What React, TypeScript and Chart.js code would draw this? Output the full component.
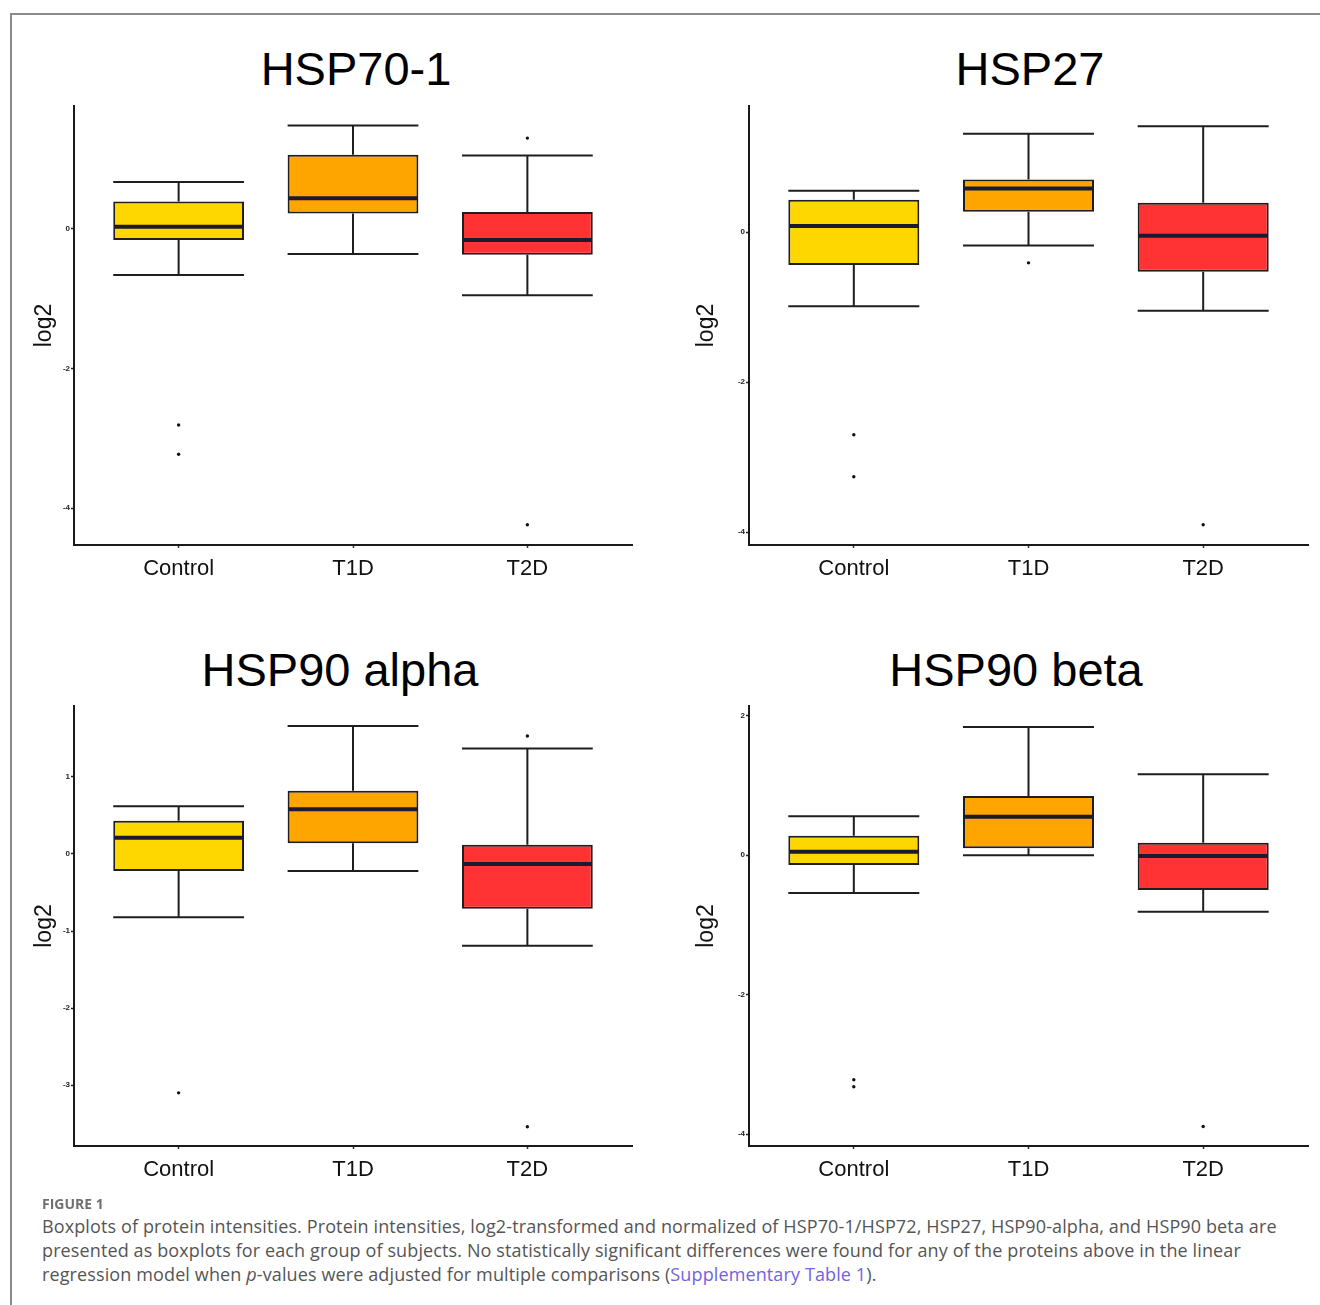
import React, { useEffect, useRef } from 'react';
import { Chart, registerables } from 'chart.js';

Chart.register(...registerables);

// ---- data ----
const categories = ['Control', 'T1D', 'T2D'];

// five-number summaries per group: [lower whisker, Q1, median, Q3, upper whisker]
const hsp701Boxes = [
  [-0.66, -0.16, 0.03, 0.39, 0.67],
  [-0.36, 0.22, 0.44, 1.06, 1.48],
  [-0.95, -0.37, -0.16, 0.24, 1.05],
];
const hsp701Outliers = [[0, -2.81], [0, -3.23], [2, 1.3], [2, -4.24]];

const hsp27Boxes = [
  [-0.99, -0.44, 0.08, 0.43, 0.55],
  [-0.18, 0.27, 0.58, 0.7, 1.31],
  [-1.05, -0.53, -0.05, 0.39, 1.41],
];
const hsp27Outliers = [[0, -2.7], [0, -3.26], [1, -0.41], [2, -3.9]];

const hsp90aBoxes = [
  [-0.82, -0.22, 0.21, 0.43, 0.62],
  [-0.22, 0.14, 0.58, 0.82, 1.66],
  [-1.19, -0.71, -0.13, 0.12, 1.37],
];
const hsp90aOutliers = [[0, -3.1], [2, 1.53], [2, -3.54]];

const hsp90bBoxes = [
  [-0.54, -0.14, 0.05, 0.28, 0.56],
  [0.0, 0.1, 0.55, 0.85, 1.84],
  [-0.81, -0.5, -0.01, 0.18, 1.16],
];
const hsp90bOutliers = [[0, -3.22], [0, -3.32], [2, -3.89]];

const hsp701Ticks = [0, -2, -4];
const hsp27Ticks = [0, -2, -4];
const hsp90aTicks = [1, 0, -1, -2, -3];
const hsp90bTicks = [2, 0, -2, -4];

const boxFill = ['#FFD700', '#FFA500', '#FF3333'];
const BOX_WIDTH = 0.75;

const boxWhiskerPlugin = {
  id: 'boxWhiskers',
  beforeDatasetsDraw(chart: any, _args: any, opts: any) {
    const stats: number[][] = opts.stats || [];
    const { ctx, scales } = chart;
    const x = scales.x;
    const y = scales.y;
    ctx.save();
    ctx.strokeStyle = '#1e1e1e';
    ctx.lineWidth = 2;
    stats.forEach((s, i) => {
      const cx = x.getPixelForValue(i);
      const xl = x.getPixelForValue(i - BOX_WIDTH / 2);
      const xr = x.getPixelForValue(i + BOX_WIDTH / 2);
      ctx.beginPath();
      ctx.moveTo(cx, y.getPixelForValue(s[0]));
      ctx.lineTo(cx, y.getPixelForValue(s[1]));
      ctx.moveTo(cx, y.getPixelForValue(s[3]));
      ctx.lineTo(cx, y.getPixelForValue(s[4]));
      ctx.moveTo(xl, y.getPixelForValue(s[0]));
      ctx.lineTo(xr, y.getPixelForValue(s[0]));
      ctx.moveTo(xl, y.getPixelForValue(s[4]));
      ctx.lineTo(xr, y.getPixelForValue(s[4]));
      ctx.stroke();
    });
    ctx.restore();
  },
  afterDatasetsDraw(chart: any, _args: any, opts: any) {
    const stats: number[][] = opts.stats || [];
    const { ctx, scales } = chart;
    const x = scales.x;
    const y = scales.y;
    ctx.save();
    ctx.strokeStyle = '#1a1a30';
    ctx.lineWidth = 4;
    stats.forEach((s, i) => {
      const xl = x.getPixelForValue(i - BOX_WIDTH / 2);
      const xr = x.getPixelForValue(i + BOX_WIDTH / 2);
      const ym = y.getPixelForValue(s[2]);
      ctx.beginPath();
      ctx.moveTo(xl + 1, ym);
      ctx.lineTo(xr - 1, ym);
      ctx.stroke();
    });
    ctx.restore();
  },
};

type PanelProps = {
  boxes: number[][];
  outliers: number[][];
  yMin: number;
  yMax: number;
  yTicks: number[];
  left: number;
  top: number;
  yAxisWidth: number;
  rightPad: number;
  xAxisHeight: number;
  titlePad: number;
};

const FONT = '"Liberation Sans", Arial, Helvetica, sans-serif';

function Panel(p: PanelProps) {
  const ref = useRef<HTMLCanvasElement>(null);
  useEffect(() => {
    const chart = new Chart(ref.current as HTMLCanvasElement, {
      type: 'bar',
      data: {
        datasets: [
          {
            type: 'bar',
            data: p.boxes.map((b, i) => ({ x: i, y: [b[1], b[3]] })) as any,
            backgroundColor: boxFill,
            borderColor: '#1e1e1e',
            borderWidth: 2,
            borderSkipped: false,
            barPercentage: BOX_WIDTH,
            categoryPercentage: 1,
            grouped: false,
          } as any,
          {
            type: 'scatter',
            data: p.outliers.map(([g, v]) => ({ x: g, y: v })),
            pointRadius: 1.7,
            pointBackgroundColor: '#111',
            pointBorderWidth: 0,
          } as any,
        ],
      },
      options: {
        animation: false,
        responsive: false,
        layout: { padding: { top: 10, right: p.rightPad, bottom: 0, left: 0 } },
        plugins: {
          legend: { display: false },
          tooltip: { enabled: false },
          boxWhiskers: { stats: p.boxes },
        } as any,
        scales: {
          x: {
            type: 'linear',
            min: -0.6,
            max: 2.6,
            offset: false,
            afterBuildTicks: (axis: any) => {
              axis.ticks = categories.map((_, i) => ({ value: i }));
            },
            afterFit: (s: any) => {
              s.height = p.xAxisHeight;
            },
            grid: {
              offset: false,
              drawOnChartArea: false,
              drawTicks: true,
              tickLength: 3,
              tickWidth: 1.5,
              tickColor: '#333',
            },
            border: { display: true, color: '#1a1a1a', width: 2 },
            ticks: {
              autoSkip: false,
              maxRotation: 0,
              padding: 8,
              color: '#111',
              font: { family: FONT, size: 22 },
              callback: (v: any) => categories[v as number] ?? '',
            },
          },
          y: {
            type: 'linear',
            min: p.yMin,
            max: p.yMax,
            afterBuildTicks: (axis: any) => {
              axis.ticks = p.yTicks.map((v) => ({ value: v }));
            },
            afterFit: (s: any) => {
              s.width = p.yAxisWidth;
            },
            grid: {
              drawOnChartArea: false,
              drawTicks: true,
              tickLength: 3,
              tickWidth: 1.5,
              tickColor: '#222',
            },
            border: { display: true, color: '#1a1a1a', width: 2 },
            ticks: {
              padding: 1,
              color: '#222',
              font: { family: FONT, size: 8, weight: 'bold' },
              callback: (v: any) => String(v),
            },
            title: {
              display: true,
              text: 'log2',
              color: '#111',
              font: { family: FONT, size: 23 },
              padding: { top: p.titlePad, bottom: 0 },
            },
          },
        },
      } as any,
      plugins: [boxWhiskerPlugin],
    });
    return () => chart.destroy();
  }, []);
  return (
    <canvas
      ref={ref}
      width={640}
      height={504}
      style={{ position: 'absolute', left: p.left, top: p.top, width: 640, height: 504 }}
    />
  );
}

function Title({ text, cx, top }: { text: string; cx: number; top: number }) {
  return (
    <div
      style={{
        position: 'absolute',
        left: cx - 300,
        top,
        width: 600,
        textAlign: 'center',
        font: `47px ${FONT}`,
        lineHeight: '48px',
        color: '#000',
        whiteSpace: 'nowrap',
      }}
    >
      {text}
    </div>
  );
}

export default function App() {
  return (
    <div
      style={{
        position: 'absolute',
        left: 0,
        top: 0,
        width: 1320,
        height: 1305,
        overflow: 'hidden',
        background: '#fff',
      }}
    >
      <div
        style={{
          position: 'absolute',
          left: 10,
          top: 13,
          width: 1400,
          height: 1400,
          borderTop: '2px solid #8a8a8a',
          borderLeft: '2px solid #8a8a8a',
        }}
      />
      <Title text="HSP70-1" cx={356} top={45} />
      <Title text="HSP27" cx={1030} top={45} />
      <Title text="HSP90 alpha" cx={340} top={646} />
      <Title text="HSP90 beta" cx={1016} top={646} />
      <Panel
        boxes={hsp701Boxes}
        outliers={hsp701Outliers}
        yMin={-4.53}
        yMax={1.76}
        yTicks={hsp701Ticks}
        left={20}
        top={96}
        yAxisWidth={54}
        rightPad={28}
        xAxisHeight={55}
        titlePad={11}
      />
      <Panel
        boxes={hsp27Boxes}
        outliers={hsp27Outliers}
        yMin={-4.17}
        yMax={1.68}
        yTicks={hsp27Ticks}
        left={680}
        top={96}
        yAxisWidth={69}
        rightPad={12}
        xAxisHeight={55}
        titlePad={13}
      />
      <Panel
        boxes={hsp90aBoxes}
        outliers={hsp90aOutliers}
        yMin={-3.79}
        yMax={1.92}
        yTicks={hsp90aTicks}
        left={20}
        top={696}
        yAxisWidth={54}
        rightPad={28}
        xAxisHeight={54}
        titlePad={11}
      />
      <Panel
        boxes={hsp90bBoxes}
        outliers={hsp90bOutliers}
        yMin={-4.17}
        yMax={2.14}
        yTicks={hsp90bTicks}
        left={680}
        top={696}
        yAxisWidth={69}
        rightPad={12}
        xAxisHeight={54}
        titlePad={13}
      />
      <div
        style={{
          position: 'absolute',
          left: 42,
          top: 1194,
          font: '700 14px "Open Sans", Lato, sans-serif',
          color: '#707070',
        }}
      >
        FIGURE 1
      </div>
      <div
        style={{
          position: 'absolute',
          left: 42,
          top: 1214,
          font: '18px "Open Sans", Lato, sans-serif',
          lineHeight: '24px',
          letterSpacing: '0.12px',
          color: '#555',
          whiteSpace: 'nowrap',
        }}
      >
        Boxplots of protein intensities. Protein intensities, log2-transformed and normalized of HSP70-1/HSP72, HSP27, HSP90-alpha, and HSP90 beta are
        <br />
        presented as boxplots for each group of subjects. No statistically significant differences were found for any of the proteins above in the linear
        <br />
        regression model when <i>p</i>-values were adjusted for multiple comparisons (
        <span style={{ color: '#7262e0' }}>Supplementary Table 1</span>).
      </div>
    </div>
  );
}
